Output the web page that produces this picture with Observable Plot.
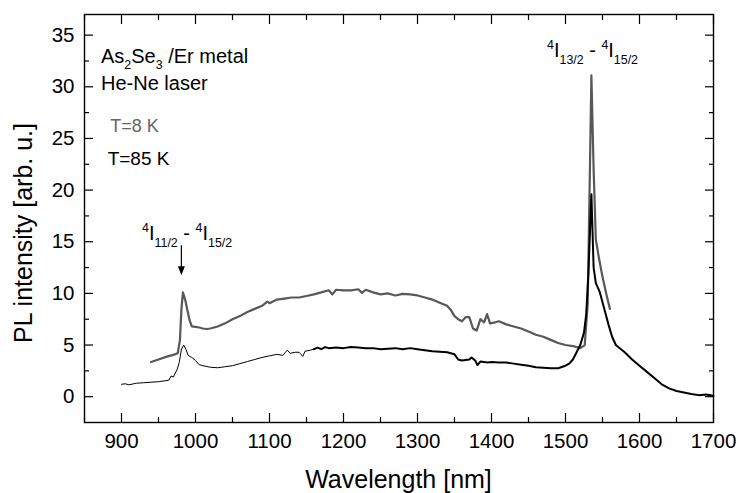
<!DOCTYPE html>
<html><head><meta charset="utf-8">
<script src="https://cdn.jsdelivr.net/npm/d3@7"></script>
<script src="https://cdn.jsdelivr.net/npm/@observablehq/plot@0.6"></script>
<style>
body{margin:0;background:#fff;}
#chart svg{font-family:"Liberation Sans",Arial,sans-serif;}
</style></head><body><div id="chart"></div>
<script>
// T = 8 K spectrum (grey)
const t8Wavelength = [940,950,960,970,976,979,981,983,986,989,992,995,1000,1005,1010,1015,1020,1025,1030,1040,1050,1060,1070,1080,1090,1097,1100,1110,1120,1130,1140,1150,1160,1170,1180,1185,1190,1200,1210,1220,1225,1230,1240,1250,1260,1270,1280,1290,1300,1310,1320,1330,1340,1345,1350,1355,1360,1365,1370,1375,1380,1385,1390,1394,1398,1405,1410,1420,1430,1440,1450,1460,1470,1480,1490,1500,1510,1520,1526,1530,1533,1535,1538,1541,1545,1550,1555,1560];
const t8Intensity  = [3.35,3.6,3.85,4.05,4.2,5.5,8.5,10.1,9.4,8.4,7.4,6.8,6.75,6.7,6.6,6.55,6.6,6.7,6.8,7.1,7.5,7.8,8.2,8.5,8.8,9.2,9.05,9.4,9.5,9.6,9.6,9.75,9.9,10.1,10.3,9.9,10.35,10.3,10.3,10.4,10.05,10.35,10.1,9.9,10.0,9.8,9.95,9.9,9.8,9.6,9.4,9.1,8.8,8.4,7.8,7.5,7.3,7.7,7.7,6.6,6.4,7.5,7.2,8.0,7.1,7.2,7.3,7.0,6.8,6.6,6.3,6.0,5.8,5.5,5.2,5.0,4.9,4.7,5.0,9.0,22.0,31.1,22.0,15.2,13.5,11.6,10.0,8.5];

// T = 85 K spectrum (black)
const t85Wavelength = [900,905,910,920,930,940,950,960,964,967,970,975,978,981,984,987,990,995,1000,1005,1010,1020,1030,1040,1050,1060,1070,1080,1090,1100,1110,1118,1124,1128,1135,1140,1145,1148,1155,1160,1165,1170,1175,1180,1190,1200,1210,1220,1230,1240,1250,1260,1270,1280,1290,1300,1310,1320,1330,1340,1350,1355,1360,1370,1373,1378,1381,1385,1395,1400,1410,1420,1430,1440,1450,1460,1470,1480,1490,1500,1505,1510,1515,1520,1525,1528,1531,1535,1538,1541,1546,1552,1558,1563,1568,1575,1580,1590,1600,1610,1620,1630,1640,1650,1660,1670,1680,1690,1700];
const t85Intensity  = [1.2,1.25,1.15,1.3,1.35,1.4,1.45,1.55,1.6,2.0,1.9,2.6,3.3,4.6,5.0,4.6,4.0,3.8,3.5,3.1,3.0,2.85,2.8,2.9,3.0,3.2,3.4,3.6,3.8,3.95,4.1,4.0,4.5,4.2,4.3,4.3,3.9,4.4,4.5,4.6,4.75,4.6,4.8,4.7,4.75,4.7,4.8,4.75,4.7,4.7,4.6,4.65,4.7,4.6,4.7,4.6,4.5,4.4,4.35,4.3,4.1,3.6,3.5,3.6,3.8,3.5,3.05,3.4,3.3,3.35,3.3,3.3,3.2,3.1,3.0,2.85,2.8,2.75,2.75,3.0,3.2,3.6,4.3,5.0,6.2,8.0,12.0,19.6,12.5,11.0,10.2,8.6,7.0,5.8,5.0,4.6,4.3,3.6,3.0,2.4,1.8,1.2,0.8,0.55,0.4,0.25,0.15,0.2,0.1];
const t85ThinUntil = 1160;

const xTicks = [900,1000,1100,1200,1300,1400,1500,1600,1700];
const xMinorTicks = [850,950,1050,1150,1250,1350,1450,1550,1650];
const yTicks = [0,5,10,15,20,25,30,35];
const yMinorTicks = [2.5,7.5,12.5,17.5,22.5,27.5,32.5];

const xLabel = "Wavelength [nm]";
const yLabel = "PL intensity [arb. u.]";

const t85Rows = t85Wavelength.map((w, i) => ({w, v: t85Intensity[i]}));
const t85Thin = t85Rows.filter(d => d.w <= t85ThinUntil);
const t85Thick = t85Rows.filter(d => d.w >= t85ThinUntil);

const grey = "#585858";
const fs = 20.5;
const fmt = d3.format("d");

const chart = Plot.plot({
  width: 738, height: 493,
  marginLeft: 84, marginRight: 25, marginTop: 14, marginBottom: 71,
  x: {domain: [850, 1700]},
  y: {domain: [-2.5, 37]},
  style: {background: "#fff", color: "#000", fontFamily: '"Liberation Sans", Arial, sans-serif'},
  marks: [
    Plot.line(t8Intensity, {x: t8Wavelength, y: t8Intensity, stroke: grey, strokeWidth: 2.2, strokeLinejoin: "round"}),
    Plot.line(t85Thin, {x: "w", y: "v", stroke: "#000", strokeWidth: 1, strokeLinejoin: "round"}),
    Plot.line(t85Thick, {x: "w", y: "v", stroke: "#000", strokeWidth: 2, strokeLinejoin: "round"}),
    // tick labels
    Plot.axisX(xTicks, {anchor: "bottom", tickSize: 0, tickPadding: 11, fontSize: fs, tickFormat: fmt, label: null}),
    Plot.axisY(yTicks, {anchor: "left", tickSize: 0, tickPadding: 10, fontSize: fs, tickFormat: fmt, label: null}),
    // inward major ticks, all four sides
    Plot.axisX(xTicks, {anchor: "bottom", tickSize: -9, fill: "none", label: null, strokeWidth: 1.2}),
    Plot.axisX(xTicks, {anchor: "top", tickSize: -9, fill: "none", label: null, strokeWidth: 1.2}),
    Plot.axisY(yTicks, {anchor: "left", tickSize: -9, fill: "none", label: null, strokeWidth: 1.2}),
    Plot.axisY(yTicks, {anchor: "right", tickSize: -9, fill: "none", label: null, strokeWidth: 1.2}),
    // inward minor ticks
    Plot.axisX(xMinorTicks, {anchor: "bottom", tickSize: -5, fill: "none", label: null, strokeWidth: 1.2}),
    Plot.axisX(xMinorTicks, {anchor: "top", tickSize: -5, fill: "none", label: null, strokeWidth: 1.2}),
    Plot.axisY(yMinorTicks, {anchor: "left", tickSize: -5, fill: "none", label: null, strokeWidth: 1.2}),
    Plot.axisY(yMinorTicks, {anchor: "right", tickSize: -5, fill: "none", label: null, strokeWidth: 1.2}),
    Plot.frame({stroke: "#000", strokeWidth: 1.4})
  ]
});
document.getElementById("chart").appendChild(chart);

// annotations placed through the plot's own scales
const sx = chart.scale("x"), sy = chart.scale("y");
const svg = d3.select(chart);
const ann = svg.append("g").attr("font-family", '"Liberation Sans", Arial, sans-serif');

function rich(x, y, parts, size, anchor = "start", fill = "#000") {
  const t = ann.append("text").attr("x", sx.apply(x)).attr("y", sy.apply(y))
    .attr("font-size", size).attr("text-anchor", anchor).attr("fill", fill);
  let shift = 0;
  for (const [s, k] of parts) {
    const target = k === "sub" ? size * 0.32 : k === "sup" ? -size * 0.42 : 0;
    t.append("tspan").attr("dy", target - shift)
      .attr("font-size", k === "n" ? size : size * 0.62).text(s);
    shift = target;
  }
}

rich(873, 32.3, [["As","n"],["2","sub"],["Se","n"],["3","sub"],[" /Er metal","n"]], 20);
rich(873, 29.6, [["He-Ne laser","n"]], 20);
rich(885.5, 25.6, [["T=8 K","n"]], 18, "start", "#666");
rich(882, 22.4, [["T=85 K","n"]], 19);
rich(928.5, 15.1, [["4","sup"],["I","n"],["11/2","sub"],[" - ","n"],["4","sup"],["I","n"],["15/2","sub"]], 20);
rich(1475.7, 32.8, [["4","sup"],["I","n"],["13/2","sub"],[" - ","n"],["4","sup"],["I","n"],["15/2","sub"]], 20);

// arrow to the 980 nm peak
const ax = sx.apply(981.6), ay1 = sy.apply(14.6), ay2 = sy.apply(11.7);
ann.append("line").attr("x1", ax).attr("x2", ax).attr("y1", ay1).attr("y2", ay2 - 6)
  .attr("stroke", "#000").attr("stroke-width", 1.2);
ann.append("path").attr("d", `M${ax - 3.5},${ay2 - 9}L${ax + 3.5},${ay2 - 9}L${ax},${ay2}Z`).attr("fill", "#000");

// axis titles
ann.append("text").attr("x", (84 + 713) / 2).attr("y", 488).attr("text-anchor", "middle")
  .attr("font-size", 25).text(xLabel);
ann.append("text").attr("transform", "translate(32,233) rotate(-90)").attr("text-anchor", "middle")
  .attr("font-size", 25).text(yLabel);
</script></body></html>
